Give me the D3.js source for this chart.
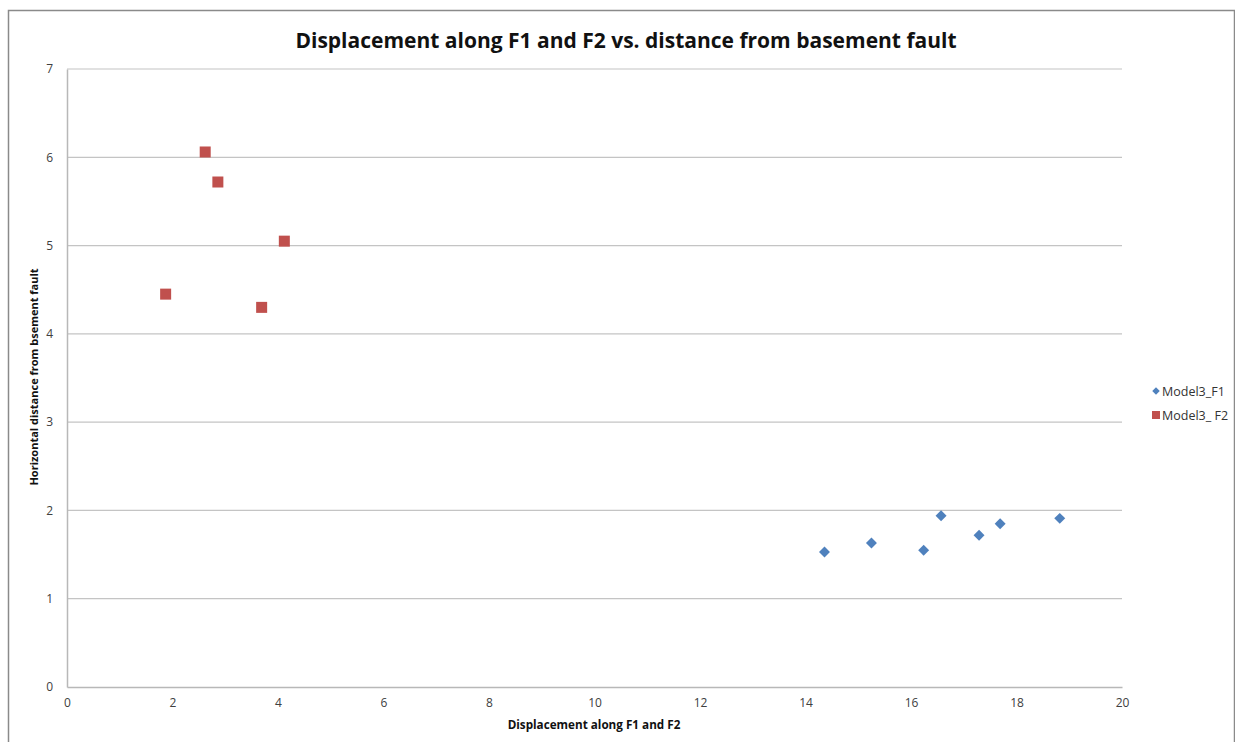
<!DOCTYPE html>
<html>
<head>
<meta charset="utf-8">
<script src="https://cdn.jsdelivr.net/npm/d3@7"></script>
<style>
  html, body { margin: 0; padding: 0; background: #fff; }
  svg { display: block; }
</style>
</head>
<body>
<svg id="chart" width="1235" height="742"></svg>
<script>
// Series: displacement along the fault (x) vs horizontal distance from basement fault (y)
const f1X = [14.36, 15.25, 16.24, 16.57, 17.29, 17.69, 18.82];
const f1Y = [1.53, 1.63, 1.55, 1.94, 1.72, 1.85, 1.91];
const f2X = [2.62, 2.86, 4.12, 1.87, 3.69];
const f2Y = [6.06, 5.72, 5.05, 4.45, 4.30];

const xTicks = [0, 2, 4, 6, 8, 10, 12, 14, 16, 18, 20];
const yTicks = [0, 1, 2, 3, 4, 5, 6, 7];

const seriesNames = ["Model3_F1", "Model3_ F2"];
const seriesColors = ["#4F81BD", "#C0504D"];

const svg = d3.select("#chart");
const font = "'Open Sans', 'Noto Sans', sans-serif";

// chart frame
svg.append("rect")
  .attr("x", 8.5).attr("y", 10.5)
  .attr("width", 1226).attr("height", 760)
  .attr("fill", "#fff")
  .attr("stroke", "#8a8a8a").attr("stroke-width", 1.5);

const plot = { left: 67, right: 1122, top: 69, bottom: 687 };

const x = d3.scaleLinear().domain([0, 20]).range([plot.left, plot.right]);
const y = d3.scaleLinear().domain([0, 7]).range([plot.bottom, plot.top]);

// horizontal gridlines
svg.append("g")
  .selectAll("line")
  .data(yTicks.filter(d => d > 0))
  .join("line")
  .attr("x1", plot.left).attr("x2", plot.right)
  .attr("y1", d => y(d)).attr("y2", d => y(d))
  .attr("stroke", "#c4c4c4").attr("stroke-width", 1.2);

// y axis
const yAxis = svg.append("g")
  .attr("transform", `translate(${plot.left},0)`)
  .call(d3.axisLeft(y).tickValues(yTicks).tickSize(0).tickPadding(14).tickFormat(d3.format("d")));
yAxis.select(".domain").attr("stroke", "#b8b8b8").attr("stroke-width", 1.5);
yAxis.selectAll("text").attr("font-family", font).attr("font-size", 12).attr("fill", "#404040");

// x axis
const xAxis = svg.append("g")
  .attr("transform", `translate(0,${plot.bottom})`)
  .call(d3.axisBottom(x).tickValues(xTicks).tickSize(0).tickPadding(11).tickFormat(d3.format("d")));
xAxis.select(".domain").attr("stroke", "#b8b8b8").attr("stroke-width", 1.5);
xAxis.selectAll("text").attr("font-family", font).attr("font-size", 12).attr("fill", "#404040");

// title
svg.append("text")
  .attr("x", 626).attr("y", 48)
  .attr("text-anchor", "middle")
  .attr("font-family", font).attr("font-weight", "bold").attr("font-size", 21)
  .attr("fill", "#111")
  .text("Displacement along F1 and F2 vs. distance from basement fault");

// axis titles
svg.append("text")
  .attr("x", 594).attr("y", 729)
  .attr("text-anchor", "middle")
  .attr("font-family", font).attr("font-weight", "bold").attr("font-size", 11.7)
  .attr("fill", "#111")
  .text("Displacement along F1 and F2");

svg.append("text")
  .attr("transform", "translate(38,377) rotate(-90)")
  .attr("text-anchor", "middle")
  .attr("font-family", font).attr("font-weight", "bold").attr("font-size", 11)
  .attr("fill", "#111")
  .text("Horizontal distance from bsement fault");

// F1 series: diamonds
svg.append("g")
  .selectAll("path")
  .data(f1X.map((v, i) => [v, f1Y[i]]))
  .join("path")
  .attr("transform", d => `translate(${x(d[0])},${y(d[1])}) rotate(45)`)
  .attr("d", d3.symbol().type(d3.symbolSquare).size(60)())
  .attr("fill", seriesColors[0]);

// F2 series: squares
const sq = 11;
svg.append("g")
  .selectAll("rect")
  .data(f2X.map((v, i) => [v, f2Y[i]]))
  .join("rect")
  .attr("x", d => x(d[0]) - sq / 2).attr("y", d => y(d[1]) - sq / 2)
  .attr("width", sq).attr("height", sq)
  .attr("fill", seriesColors[1]);

// legend
const legend = svg.append("g").attr("transform", "translate(1156,391)");
legend.append("path")
  .attr("transform", "rotate(45)")
  .attr("d", d3.symbol().type(d3.symbolSquare).size(28)())
  .attr("fill", seriesColors[0]);
legend.append("rect")
  .attr("x", -4).attr("y", 20).attr("width", 8).attr("height", 8)
  .attr("fill", seriesColors[1]);
legend.selectAll("text")
  .data(seriesNames)
  .join("text")
  .attr("x", 6).attr("y", (d, i) => 4.5 + i * 24)
  .attr("font-family", font).attr("font-size", 12.5)
  .attr("fill", "#333")
  .text(d => d);
</script>
</body>
</html>
